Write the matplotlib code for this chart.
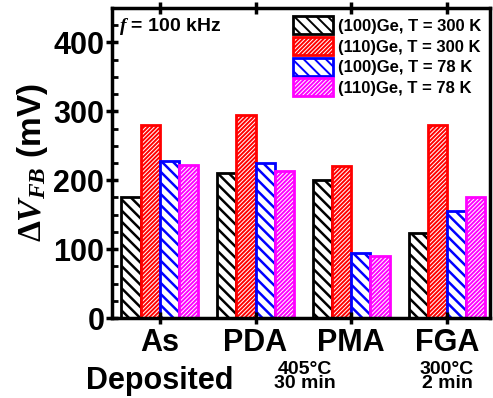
import matplotlib
matplotlib.use('Agg')
import matplotlib.pyplot as plt
import numpy as np

plt.rcParams['font.family'] = ['Liberation Sans', 'DejaVu Sans']
plt.rcParams['font.weight'] = 'bold'
plt.rcParams['mathtext.fontset'] = 'custom'
plt.rcParams['mathtext.rm'] = 'Liberation Serif'
plt.rcParams['mathtext.it'] = 'Liberation Serif:italic'
plt.rcParams['mathtext.bf'] = 'Liberation Serif:italic:bold'

categories = ['As', 'PDA', 'PMA', 'FGA']
series = ['(100)Ge, T = 300 K', '(110)Ge, T = 300 K',
          '(100)Ge, T = 78 K', '(110)Ge, T = 78 K']
ge100_300K = [175, 210, 200, 123]
ge110_300K = [280, 294, 220, 280]
ge100_78K = [228, 225, 95, 155]
ge110_78K = [222, 213, 90, 175]

colors = ['black', 'red', 'blue', 'magenta']
hatches = ['\\\\\\', '////////', '\\\\\\', '////////']
hatch_lw = [1.8, 1.4, 1.8, 1.4]

fig = plt.figure(figsize=(4.93, 3.98), dpi=100)
ax = fig.add_axes([0.227, 0.201, 0.767, 0.779])

x = np.arange(len(categories))
w = 0.2
values = [ge100_300K, ge110_300K, ge100_78K, ge110_78K]
for i, vals in enumerate(values):
    plt.rcParams['hatch.linewidth'] = hatch_lw[i]
    ax.bar(x + (i - 1.5) * w, vals, w, facecolor='white', edgecolor=colors[i],
           hatch=hatches[i], linewidth=2, label=series[i])

ax.set_xlim(-0.5, 3.45)
ax.set_ylim(0, 450)
ax.set_yticks([0, 100, 200, 300, 400])
ax.set_yticks(np.arange(0, 450, 25), minor=True)
ax.set_xticks(x)
ax.set_xticklabels(categories, fontsize=22, fontweight='bold')
ax.tick_params(axis='y', labelsize=22, direction='inout', length=9, width=2.5, pad=1)
ax.tick_params(axis='y', which='minor', direction='in', length=4, width=2)
ax.tick_params(axis='x', direction='inout', length=9, width=2.5, top=True, pad=3)
for s in ax.spines.values():
    s.set_linewidth(2.5)

ax.set_ylabel(r'$\Delta V_{\mathbf{FB}}$ (mV)', fontsize=24, fontweight='bold', labelpad=2)

ax.text(0.02, 0.975, r'$f$ = 100 kHz', transform=ax.transAxes, fontsize=14,
        fontweight='bold', va='top', ha='left')

ax.text(0, -0.155, 'Deposited', transform=ax.get_xaxis_transform(), fontsize=22,
        fontweight='bold', ha='center', va='top')
ax.text(1.52, -0.14, '405\u00b0C\n30 min', transform=ax.get_xaxis_transform(),
        fontsize=14, fontweight='bold', ha='center', va='top', linespacing=0.75)
ax.text(3.0, -0.14, '300\u00b0C\n2 min', transform=ax.get_xaxis_transform(),
        fontsize=14, fontweight='bold', ha='center', va='top', linespacing=0.75)

ax.legend(loc='upper right', frameon=False, handlelength=2.4,
          handleheight=1.3, handletextpad=0.3, labelspacing=0.15,
          borderaxespad=0.1, prop={'weight': 'bold', 'size': 12})

fig.savefig('out.png', dpi=100)
